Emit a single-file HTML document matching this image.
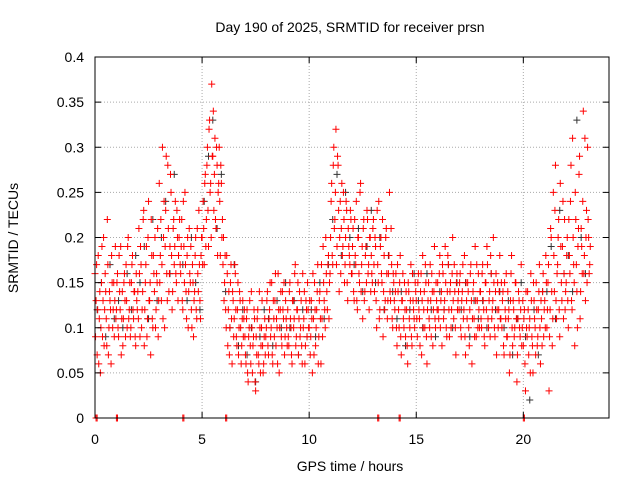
<!DOCTYPE html>
<html><head><meta charset="utf-8"><style>
body{margin:0;background:#fff}
svg{display:block;font-family:"Liberation Sans",sans-serif}
</style></head><body>
<svg id="chart" width="640" height="480" viewBox="0 0 640 480">
<rect x="0" y="0" width="640" height="480" fill="#fff"/>
<text x="350" y="32" font-size="14" text-anchor="middle">Day 190 of 2025, SRMTID for receiver prsn</text>
<g id="grid"></g>
<g id="marks"></g>
<rect x="95" y="57" width="514" height="361" fill="none" stroke="#000" stroke-width="1"/>
<g id="ticks"></g>
<text transform="translate(18,238) rotate(-90)" font-size="14" text-anchor="middle">SRMTID / TECUs</text>
<text x="350" y="471" font-size="14" text-anchor="middle">GPS time / hours</text>
</svg>
<script>
const xTicks=[0,5,10,15,20];
const yTicks=[0,0.05,0.1,0.15,0.2,0.25,0.3,0.35,0.4];
const yTickLabels=["0","0.05","0.1","0.15","0.2","0.25","0.3","0.35","0.4"];
const redStep=0.05;
const redVals=[.16,.13,.07,.18,.11,.05,.15,.09,.2,.12,.14,.08,.17,.1,.13,.06,.15,.12,.09,.19,
.12,.16,.09,.14,.19,.11,.08,.15,.13,.17,.1,.2,.12,.09,.15,.18,.11,.14,.08,.13,
.14,.21,.09,.17,.12,.22,.08,.15,.19,.11,.24,.13,.07,.18,.1,.16,.2,.12,.15,.09,
.26,.18,.13,.3,.2,.1,.23,.16,.28,.14,.19,.25,.12,.21,.17,.24,.15,.2,.18,.22,
.16,.22,.12,.19,.25,.14,.18,.1,.21,.15,.12,.17,.09,.14,.2,.11,.16,.23,.13,.18,
.2,.24,.17,.27,.22,.3,.19,.33,.26,.37,.29,.23,.31,.21,.28,.25,.3,.18,.26,.22,
.2,.15,.12,.18,.08,.14,.1,.17,.06,.13,.11,.16,.09,.12,.07,.14,.1,.08,.13,.11,
.09,.06,.12,.04,.1,.08,.14,.05,.09,.11,.03,.07,.12,.06,.1,.08,.13,.05,.09,.07,
.1,.14,.07,.12,.09,.15,.06,.11,.13,.08,.1,.16,.05,.12,.09,.14,.11,.07,.13,.1,
.12,.08,.15,.1,.06,.13,.11,.17,.09,.12,.07,.14,.1,.08,.16,.11,.06,.13,.09,.12,
.1,.07,.13,.05,.11,.15,.08,.12,.17,.09,.14,.06,.11,.19,.13,.1,.16,.12,.18,.15,
.2,.26,.17,.3,.22,.32,.19,.28,.14,.24,.21,.18,.25,.15,.2,.23,.13,.19,.17,.22,
.16,.21,.13,.18,.24,.12,.2,.15,.26,.17,.11,.22,.14,.19,.23,.16,.12,.2,.18,.15,
.22,.14,.19,.1,.17,.24,.12,.2,.15,.09,.18,.13,.21,.11,.16,.25,.13,.17,.1,.15,
.12,.16,.08,.14,.1,.18,.07,.13,.11,.15,.09,.12,.06,.14,.1,.17,.08,.13,.11,.15,
.13,.09,.16,.11,.14,.07,.18,.12,.1,.15,.06,.13,.11,.17,.09,.14,.12,.19,.1,.13,
.15,.11,.18,.13,.08,.16,.12,.19,.1,.14,.17,.09,.15,.12,.2,.11,.14,.07,.16,.13,
.12,.16,.09,.14,.11,.18,.07,.13,.15,.1,.12,.17,.06,.14,.11,.19,.09,.13,.16,.1,
.14,.1,.17,.12,.08,.15,.19,.11,.13,.09,.16,.12,.2,.1,.14,.07,.15,.12,.18,.11,
.1,.14,.07,.12,.16,.09,.11,.05,.13,.18,.08,.12,.1,.15,.04,.11,.13,.09,.17,.1,
.08,.12,.03,.1,.14,.07,.11,.16,.09,.05,.13,.1,.15,.08,.12,.17,.06,.11,.14,.09,
.13,.18,.1,.15,.03,.12,.2,.08,.25,.14,.28,.11,.17,.22,.09,.19,.13,.24,.16,.12,
.15,.2,.1,.18,.24,.13,.31,.17,.08,.22,.14,.19,.27,.11,.21,.16,.34,.18,.13,.23,
.3,.2,.17];
const redVals2=[.09,.17,.12,.06,.14,.1,.19,.13,.08,.16,.11,.22,.07,.14,.12,.18,.1,.15,.13,.11,
.15,.1,.18,.12,.07,.14,.11,.16,.09,.13,.19,.11,.15,.1,.17,.12,.14,.09,.16,.12,
.11,.16,.19,.1,.14,.23,.12,.17,.09,.2,.13,.15,.22,.11,.18,.14,.1,.16,.21,.13,
.15,.22,.17,.11,.24,.19,.29,.13,.21,.16,.27,.18,.14,.22,.19,.16,.23,.13,.2,.17,
.19,.13,.24,.15,.17,.11,.2,.14,.16,.19,.1,.15,.13,.18,.12,.21,.14,.17,.11,.2,
.17,.21,.26,.19,.28,.23,.32,.25,.2,.29,.34,.27,.22,.3,.18,.26,.24,.28,.2,.17,
.13,.18,.1,.16,.12,.07,.15,.11,.14,.09,.17,.12,.08,.15,.1,.13,.06,.11,.09,.12,
.07,.11,.05,.09,.13,.06,.1,.08,.12,.04,.09,.11,.07,.14,.05,.1,.08,.06,.11,.09,
.13,.08,.11,.15,.1,.07,.13,.09,.16,.11,.06,.12,.1,.14,.08,.12,.15,.09,.11,.08,
.09,.14,.11,.07,.13,.1,.16,.08,.12,.15,.11,.09,.13,.06,.1,.14,.08,.12,.15,.1,
.13,.09,.11,.16,.07,.12,.1,.14,.06,.13,.11,.17,.09,.15,.12,.2,.14,.17,.11,.16,
.24,.18,.28,.21,.25,.17,.29,.23,.2,.16,.26,.19,.22,.17,.24,.15,.21,.18,.23,.16,
.19,.14,.22,.17,.13,.2,.16,.25,.14,.19,.21,.13,.18,.15,.22,.17,.2,.14,.16,.21,
.17,.2,.13,.23,.15,.11,.19,.16,.22,.14,.12,.2,.16,.13,.18,.14,.21,.11,.16,.13,
.14,.1,.17,.12,.15,.09,.13,.16,.1,.12,.14,.08,.15,.11,.13,.09,.16,.12,.1,.14,
.11,.15,.12,.08,.16,.13,.1,.14,.17,.09,.12,.15,.1,.13,.16,.08,.14,.11,.15,.12,
.12,.16,.1,.14,.17,.11,.13,.15,.09,.18,.12,.14,.1,.16,.13,.17,.1,.15,.12,.14,
.15,.1,.13,.17,.12,.09,.15,.11,.14,.08,.16,.13,.11,.15,.09,.13,.17,.1,.12,.14,
.11,.16,.13,.09,.15,.12,.17,.1,.14,.18,.11,.13,.15,.09,.16,.12,.1,.14,.11,.15,
.13,.08,.15,.11,.09,.14,.12,.07,.16,.1,.13,.09,.15,.11,.07,.14,.1,.12,.08,.13,
.11,.06,.14,.09,.12,.1,.05,.13,.08,.15,.11,.07,.12,.09,.14,.1,.13,.08,.16,.12,
.1,.15,.12,.17,.09,.21,.14,.11,.18,.23,.13,.16,.2,.12,.26,.15,.19,.11,.22,.14,
.18,.13,.22,.16,.28,.12,.2,.15,.25,.17,.1,.21,.29,.14,.19,.24,.16,.31,.2,.15,
.22,.16,.19];
const blackStep=0.2;
const blackVals=[.12,.15,.09,.17,.11,.13,.1,.16,.12,.18,.15,.19,.11,.22,.13,.2,.24,.16,.27,.18,
.17,.13,.2,.15,.12,.24,.29,.33,.21,.27,.14,.1,.17,.08,.12,.07,.1,.04,.09,.12,
.11,.08,.13,.1,.15,.1,.13,.07,.12,.09,.12,.09,.15,.11,.17,.22,.27,.18,.25,.2,
.17,.21,.14,.19,.23,.15,.2,.12,.18,.14,.11,.14,.08,.12,.16,.13,.1,.16,.12,.09,
.14,.12,.17,.1,.15,.12,.15,.09,.13,.11,.13,.1,.16,.12,.14,.1,.13,.07,.11,.15,
.09,.02,.12,.07,.14,.14,.19,.11,.23,.16,.18,.14,.33,.2,.16];
const zeroTimes=[0.05,1.0,4.1,6.1,13.2,14.2,20.0];
const X0=95,X1=609,Y0=418,Y1=57,XMAX=24,YMAX=0.4;
const xs=t=>X0+(X1-X0)*t/XMAX;
const ys=v=>Y0-(Y0-Y1)*v/YMAX;
const NS="http://www.w3.org/2000/svg";
const grid=document.getElementById('grid'),marks=document.getElementById('marks'),ticks=document.getElementById('ticks');
function mk(tag,attrs,parent){const e=document.createElementNS(NS,tag);for(const k in attrs)e.setAttribute(k,attrs[k]);parent.appendChild(e);return e;}
yTicks.forEach((v,i)=>{
 const y=ys(v);
 if(i>0&&i<yTicks.length-1){const g=mk('line',{x1:X0,x2:X1,y1:y,y2:y,stroke:'#aaa','stroke-dasharray':'1,2'},grid);
 
 }
 mk('line',{x1:X0,x2:X0+6,y1:y,y2:y,stroke:'#000'},ticks);
 mk('line',{x1:X1,x2:X1-6,y1:y,y2:y,stroke:'#000'},ticks);
 const t=mk('text',{x:X0-11,y:y+5,'font-size':14,'text-anchor':'end'},ticks);t.textContent=yTickLabels[i];
 
 
});
xTicks.forEach(v=>{
 const x=xs(v);
 if(v>0){const g=mk('line',{x1:x,x2:x,y1:Y0,y2:Y1,stroke:'#aaa','stroke-dasharray':'1,2'},grid);
 
 }
 mk('line',{x1:x,x2:x,y1:Y0,y2:Y0-6,stroke:'#000'},ticks);
 mk('line',{x1:x,x2:x,y1:Y1,y2:Y1+6,stroke:'#000'},ticks);
 const t=mk('text',{x:x,y:Y0+26,'font-size':14,'text-anchor':'middle'},ticks);t.textContent=String(v);
 
 
});
function plus(t,v,color,name){
 const x=xs(t),y=ys(v);
 const p=mk('path',{d:`M${x-3.5},${y}h7M${x},${y-3.5}v7`,stroke:color,'stroke-width':1,fill:'none'},marks);
 
 
}
blackVals.forEach((v,i)=>plus(i*blackStep+0.1,v,'#333','black-point'));
redVals.forEach((v,i)=>plus(i*redStep,v,'#f00','red-point'));
redVals2.forEach((v,i)=>plus(i*redStep+0.025,v,'#f00','red-point'));
zeroTimes.forEach(t=>{plus(t,0,'#f00','zero-point');plus(t+0.05,0,'#f00','zero-point');});
</script>
</body></html>
